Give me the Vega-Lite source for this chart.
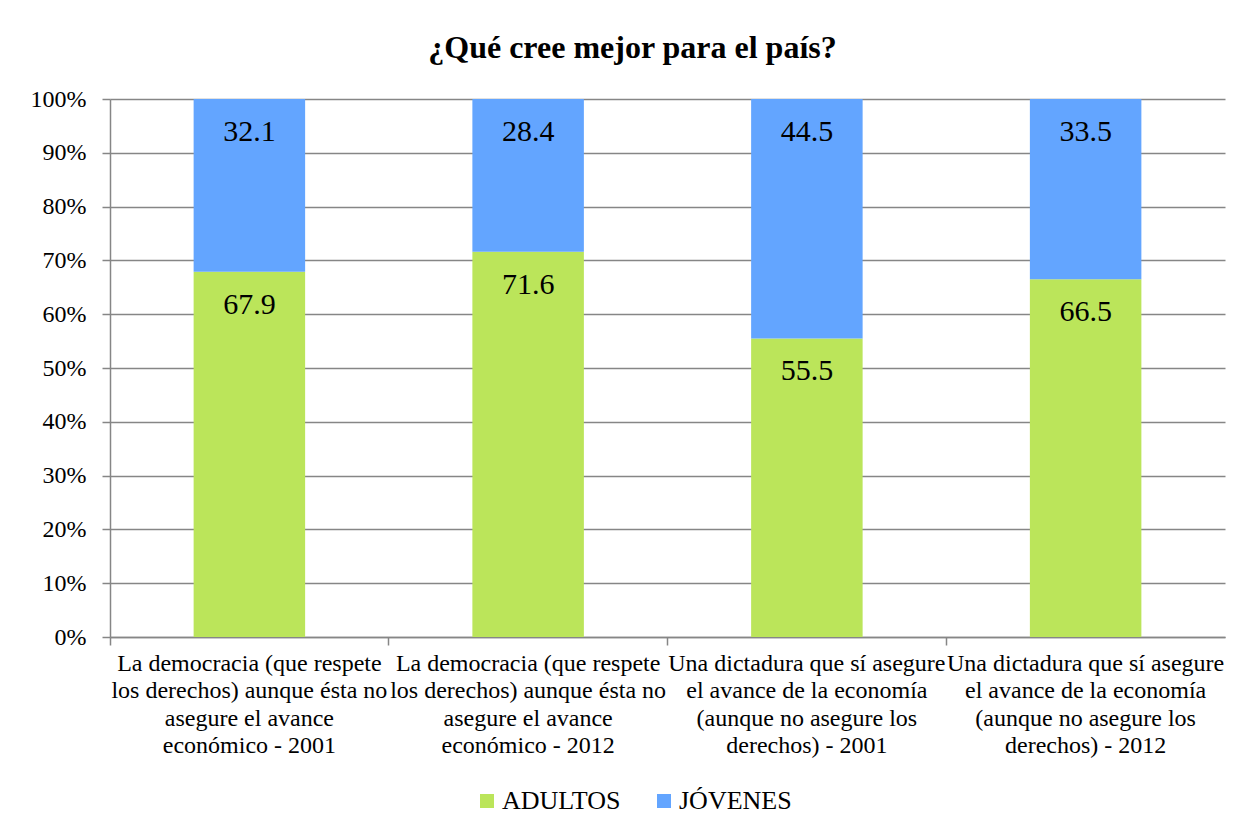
{
  "$schema": "https://vega.github.io/schema/vega-lite/v6.json",
  "width": 1115,
  "height": 538,
  "autosize": {"type": "none"},
  "padding": {"left": 110, "top": 99, "right": 21, "bottom": 196},
  "background": "white",
  "config": {
    "font": "Liberation Serif, Times New Roman, serif",
    "view": {"stroke": null},
    "text": {"font": "Liberation Serif, Times New Roman, serif"},
    "axis": {"labelFont": "Liberation Serif, Times New Roman, serif"},
    "legend": {"labelFont": "Liberation Serif, Times New Roman, serif"}
  },
  "title": {
    "text": "¿Qué cree mejor para el país?",
    "font": "Liberation Serif, Times New Roman, serif",
    "fontSize": 32,
    "fontWeight": "bold",
    "color": "black",
    "anchor": "middle",
    "offset": 22,
    "dx": -35
  },
  "data": {
    "values": [
      {"categoria": "La democracia (que respete|los derechos) aunque ésta no|asegure el avance|económico - 2001", "serie": "ADULTOS", "valor": 67.9},
      {"categoria": "La democracia (que respete|los derechos) aunque ésta no|asegure el avance|económico - 2001", "serie": "JÓVENES", "valor": 32.1},
      {"categoria": "La democracia (que respete|los derechos) aunque ésta no|asegure el avance|económico - 2012", "serie": "ADULTOS", "valor": 71.6},
      {"categoria": "La democracia (que respete|los derechos) aunque ésta no|asegure el avance|económico - 2012", "serie": "JÓVENES", "valor": 28.4},
      {"categoria": "Una dictadura que sí asegure|el avance de la economía|(aunque no asegure los|derechos) - 2001", "serie": "ADULTOS", "valor": 55.5},
      {"categoria": "Una dictadura que sí asegure|el avance de la economía|(aunque no asegure los|derechos) - 2001", "serie": "JÓVENES", "valor": 44.5},
      {"categoria": "Una dictadura que sí asegure|el avance de la economía|(aunque no asegure los|derechos) - 2012", "serie": "ADULTOS", "valor": 66.5},
      {"categoria": "Una dictadura que sí asegure|el avance de la economía|(aunque no asegure los|derechos) - 2012", "serie": "JÓVENES", "valor": 33.5}
    ]
  },
  "transform": [
    {"stack": "valor", "groupby": ["categoria"], "sort": [{"field": "serie", "order": "ascending"}], "offset": "normalize", "as": ["v0", "v1"]}
  ],
  "layer": [
    {
      "mark": {"type": "bar", "width": {"band": 0.4}},
      "encoding": {
        "x": {
          "field": "categoria", "type": "nominal", "sort": null,
          "scale": {"paddingInner": 0, "paddingOuter": 0},
          "axis": {
            "title": null, "orient": "bottom", "labelAngle": 0,
            "labelExpr": "split(datum.label, '|')",
            "labelFontSize": 24, "labelLineHeight": 27.5,
            "labelColor": "black", "labelPadding": 14, "labelLimit": 0,
            "ticks": false, "domainColor": "#868686", "domainWidth": 1.5
          }
        },
        "y": {
          "field": "v0", "type": "quantitative",
          "scale": {"domain": [0, 1], "nice": false},
          "axis": {
            "title": null, "values": [0, 0.1, 0.2, 0.3, 0.4, 0.5, 0.6, 0.7, 0.8, 0.9, 1],
            "format": ".0%", "labelFontSize": 24,
            "labelColor": "black", "labelPadding": 16, "tickSize": 8,
            "tickColor": "#868686", "tickWidth": 1.5, "domainColor": "#868686", "domainWidth": 1.5,
            "gridColor": "#868686", "gridWidth": 1.5
          }
        },
        "y2": {"field": "v1"},
        "color": {
          "field": "serie", "type": "nominal",
          "scale": {"domain": ["ADULTOS", "JÓVENES"], "range": ["#BBE55A", "#63A5FF"]},
          "legend": {
            "title": null, "orient": "none", "direction": "horizontal",
            "legendX": 364, "legendY": 689,
            "symbolType": "square", "symbolSize": 196, "symbolStrokeWidth": 0,
            "labelFontSize": 26, "labelColor": "black",
            "labelOffset": 2, "columnPadding": 30
          }
        }
      }
    },
    {
      "mark": {"type": "text", "baseline": "middle", "dy": 33, "fontSize": 30, "color": "black"},
      "encoding": {
        "x": {"field": "categoria", "type": "nominal", "sort": null,
          "axis": {"orient": "bottom", "labels": false, "title": null, "domain": false, "ticks": true, "tickSize": 8, "tickColor": "#868686", "tickWidth": 1.5, "bandPosition": 0}},
        "y": {"field": "v1", "type": "quantitative"},
        "text": {"field": "valor", "type": "quantitative", "format": ".1f"}
      }
    }
  ],
  "resolve": {"axis": {"x": "independent"}}
}
